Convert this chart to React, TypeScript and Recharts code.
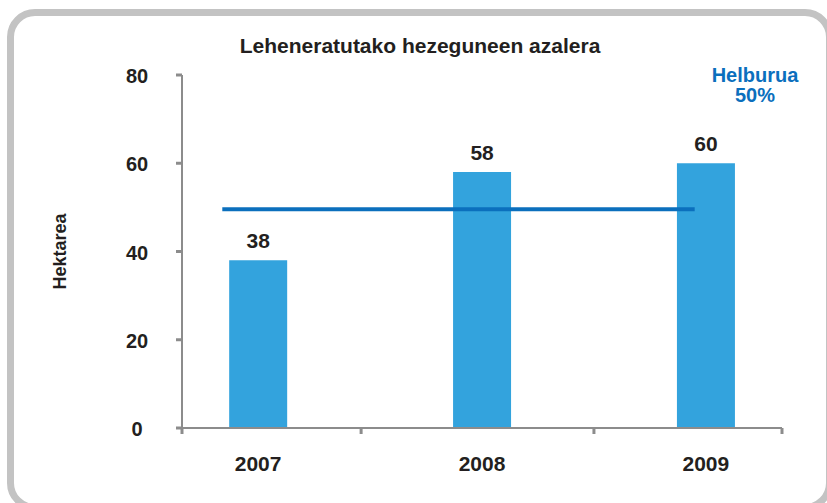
import React from 'react';
import { BarChart, Bar, XAxis, YAxis, ReferenceLine, LabelList } from 'recharts';

const years = [2007, 2008, 2009];
const hectares = [38, 58, 60];
const yTicks = [0, 20, 40, 60, 80];
const xDomain: [number, number] = [2006.66, 2009.34];
const xMarkTicks = [2006.66, 2007.46, 2008.5, 2009.34];
const targetValue = 49.6;
const targetStart = 2006.84;
const targetEnd = 2008.95;
const title = 'Leheneratutako hezeguneen azalera';
const yTitle = 'Hektarea';
const targetLabel = ['Helburua', '50%'];

const data = years.map((y, i) => ({ year: y, value: hectares[i] }));
const allXTicks = [...xMarkTicks, ...years].sort((a, b) => a - b);

const TEXT = '#231f20';
const AXIS = '#8c8c8c';
const BAR = '#33a3dd';
const LINE = '#0b6fbd';

const YTick = (props: any) => (
  <text
    x={props.x}
    y={props.y}
    dy={8}
    textAnchor="middle"
    fill={TEXT}
    fontSize={20}
    fontWeight="bold"
  >
    {props.payload.value}
  </text>
);

const XTick = (props: any) => {
  const v = props.payload.value;
  if (years.includes(v)) {
    return (
      <text
        x={props.x}
        y={props.y + 43}
        textAnchor="middle"
        fill={TEXT}
        fontSize={21}
        fontWeight="bold"
      >
        {v}
      </text>
    );
  }
  return <line x1={props.x} x2={props.x} y1={props.y} y2={props.y + 6} stroke={AXIS} strokeWidth={3} />;
};

export default function App() {
  return (
    <div
      style={{
        position: 'fixed',
        left: 0,
        top: 0,
        width: 827,
        height: 503,
        overflow: 'hidden',
        background: '#fff',
        fontFamily: '"Liberation Sans", Arial, sans-serif',
      }}
    >
      <div
        style={{
          position: 'absolute',
          left: 7,
          top: 9,
          width: 826,
          height: 502,
          boxSizing: 'border-box',
          border: '7.5px solid #c3c3c3',
          borderRadius: 28,
        }}
      />
      <div style={{ position: 'absolute', left: 0, top: 0 }}>
        <BarChart
          width={827}
          height={503}
          data={data}
          margin={{ top: 75, right: 45, bottom: 0, left: 0 }}
        >
          <XAxis
            dataKey="year"
            type="number"
            domain={xDomain}
            ticks={allXTicks}
            interval={0}
            height={75}
            tickLine={false}
            tickSize={0}
            tickMargin={0}
            axisLine={{ stroke: AXIS, strokeWidth: 2 }}
            tick={<XTick />}
            allowDataOverflow
          />
          <YAxis
            width={182}
            domain={[0, 80]}
            ticks={yTicks}
            interval={0}
            tickSize={6}
            tickMargin={39}
            axisLine={{ stroke: AXIS, strokeWidth: 2 }}
            tickLine={{ stroke: AXIS, strokeWidth: 3 }}
            tick={<YTick />}
            label={{
              value: yTitle,
              angle: -90,
              position: 'insideLeft',
              offset: 60,
              fill: TEXT,
              fontSize: 18,
              fontWeight: 'bold',
              style: { textAnchor: 'middle' },
            }}
          />
          <Bar dataKey="value" fill={BAR} barSize={58} isAnimationActive={false}>
            <LabelList
              dataKey="value"
              position="top"
              offset={12}
              fill={TEXT}
              fontSize={21}
              fontWeight="bold"
            />
          </Bar>
          <ReferenceLine
            segment={[
              { x: targetStart, y: targetValue },
              { x: targetEnd, y: targetValue },
            ]}
            stroke={LINE}
            strokeWidth={4}
          />
          <text x={420} y={53} textAnchor="middle" fill={TEXT} fontSize={21} fontWeight="bold">
            {title}
          </text>
          <text x={755} y={82} textAnchor="middle" fill={LINE} fontSize={20} fontWeight="bold">
            {targetLabel[0]}
          </text>
          <text x={755} y={102} textAnchor="middle" fill={LINE} fontSize={20} fontWeight="bold">
            {targetLabel[1]}
          </text>
        </BarChart>
      </div>
    </div>
  );
}
